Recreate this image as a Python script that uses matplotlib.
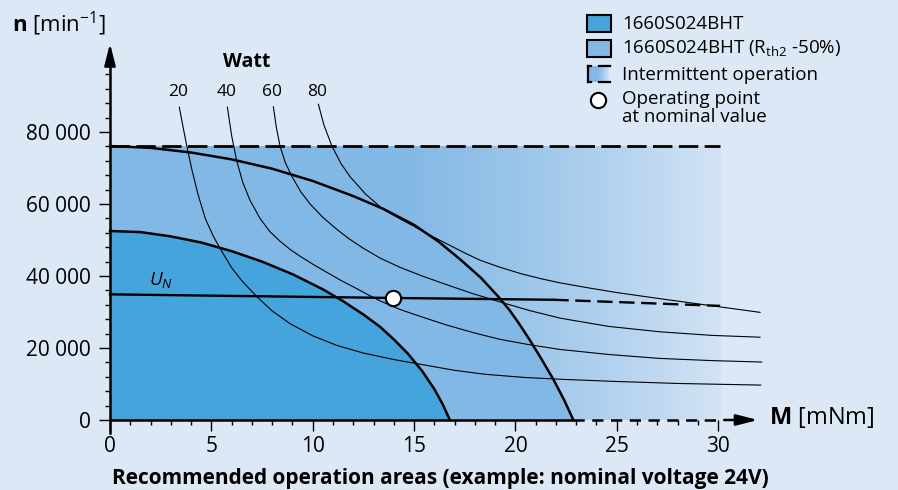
import numpy as np
import matplotlib
matplotlib.use("Agg")
import matplotlib.pyplot as plt
from matplotlib.patches import Rectangle
from matplotlib.lines import Line2D
from matplotlib.colors import to_rgb

plt.rcParams['font.family'] = ['Open Sans', 'DejaVu Sans']
plt.rcParams['mathtext.fontset'] = 'custom'
plt.rcParams['mathtext.rm'] = 'Open Sans'
plt.rcParams['mathtext.it'] = 'Open Sans:italic'
plt.rcParams['mathtext.bf'] = 'Open Sans:bold'

BG = '#dce8f6'
DARK = '#46a4dc'
MEDIUM = '#82b8e5'

# torque M [mNm] / speed n [min-1]
cont_m = [0, 1.5, 3.0, 4.5, 6.0, 7.5, 9.0, 10.5, 11.5, 12.5, 13.3, 14.0, 14.7, 15.4, 16.0, 16.4, 16.77]
cont_n = [52500, 52200, 51000, 49300, 46900, 44000, 40500, 36300, 33000, 29300, 26000, 22400,
          18400, 13600, 8600, 4500, 0]

ext_m = [0, 2, 4, 6, 8, 10, 12, 13.5, 15, 16.2, 17.3, 18.3, 19.2, 19.7, 20.2, 20.7, 21.3,
         21.9, 22.4, 22.86]
ext_n = [76100, 75600, 74300, 72400, 69800, 66400, 62200, 58600, 54200, 49600, 44500, 39500,
         34000, 30600, 26600, 22300, 16800, 11000, 5600, 0]

interm_m_max = 30.1
interm_n_max = 76100

un_m = [0, 13.98, 21.87]
un_n = [34900, 33900, 33400]
un_ext_m = [21.87, 25.8, 30.1]
un_ext_n = [33400, 32600, 31700]

op_m = [13.98]
op_n = [33900]

watt_labels = ['20', '40', '60', '80']
p20_m = [3.42, 3.6, 3.8, 4.05, 4.35, 4.7, 5.1, 5.5, 6.0, 6.5, 7.2, 8.0, 8.9, 10.0, 11.2, 12.5,
         14.0, 15.5, 17.0, 18.5, 20.5, 22.5, 25.0, 28.0, 32.1]
p20_n = [86900, 81500, 75800, 69300, 62500, 56000, 51000, 47000, 42300, 38700, 34500, 30300,
         26700, 23400, 20700, 18600, 16800, 15300, 13800, 12700, 11800, 11250, 10700, 10150, 9700]
p40_m = [5.79, 6.0, 6.25, 6.55, 6.91, 7.4, 7.89, 8.4, 8.88, 9.4, 10.03, 11.35, 12.0, 12.66,
         13.32, 14.31, 15.4, 16.6, 17.9, 19.24, 20.7, 22.2, 24.6, 27.13, 29.7, 32.15]
p40_n = [86900, 79000, 72000, 66000, 61000, 56000, 52300, 49600, 47400, 45400, 43200, 38900,
         37000, 35000, 33100, 30700, 28600, 26400, 24300, 22400, 20900, 19600, 18200, 17100,
         16500, 16100]
p60_m = [8.06, 8.2, 8.39, 8.65, 8.96, 9.4, 9.87, 10.5, 11.18, 11.8, 12.5, 13.32, 14.31, 15.4,
         16.6, 17.9, 19.24, 20.7, 22.2, 24.6, 27.13, 29.7, 32.07]
p60_n = [87000, 81500, 76000, 71500, 67800, 63500, 60000, 56300, 53000, 50300, 47700, 45000,
         42400, 40000, 37600, 35100, 32800, 30400, 28300, 26000, 24500, 23500, 23000]
p80_m = [10.28, 10.55, 10.94, 11.4, 11.84, 12.6, 13.48, 14.3, 15.13, 16.0, 16.77, 17.5, 18.25,
         19.2, 20.3, 21.3, 22.2, 23.5, 25.0, 27.13, 29.6, 32.07]
p80_n = [87700, 82000, 76200, 71200, 67600, 62800, 58500, 55900, 53400, 50700, 48500, 46400,
         44400, 42500, 40600, 39200, 38100, 36800, 35400, 33700, 31800, 29900]
power_curves = [(p20_m, p20_n), (p40_m, p40_n), (p60_m, p60_n), (p80_m, p80_n)]

x_major = [0, 5, 10, 15, 20, 25, 30]
x_labels = ['0', '5', '10', '15', '20', '25', '30']
y_major = [0, 20000, 40000, 60000, 80000]
y_labels = ['0', '20 000', '40 000', '60 000', '80 000']

legend_labels = ['1660S024BHT', r'1660S024BHT (R$_{\mathrm{th2}}$ -50%)',
                 'Intermittent operation', 'Operating point\nat nominal value']

W, H = 898, 490
fig = plt.figure(figsize=(W / 100, H / 100), dpi=100)
fig.patch.set_facecolor(BG)
ax = fig.add_axes([0, 0, 1, 1])
ax.set_facecolor(BG)


def px(x, y):
    return x / W, 1 - y / H


# gradient of the intermittent area (fades into the background)
c0 = np.array(to_rgb(MEDIUM))
c1 = np.array(to_rgb(BG))
gx = np.linspace(0, interm_m_max, 300)
t = np.clip((gx - 13.5) / (31.5 - 13.5), 0, 1) ** 1.3
grad = (c0[None, :] * (1 - t[:, None]) + c1[None, :] * t[:, None])[None, :, :]
ax.imshow(grad, extent=[0, interm_m_max, 0, interm_n_max], aspect='auto', zorder=0.5,
          interpolation='bilinear')

ax.fill(ext_m + [0], ext_n + [0], color=MEDIUM, lw=0, zorder=1)
ax.fill(cont_m + [0], cont_n + [0], color=DARK, lw=0, zorder=1.2)

for (m, n), lab in zip(power_curves, watt_labels):
    ax.plot(m, n, color='black', lw=0.8, zorder=3, solid_joinstyle='round')
    ax.text(m[0] - 0.05, 91000, lab, ha='center', va='center', fontsize=12.5)
ax.text(6.74, 99500, 'Watt', ha='center', va='center', fontsize=14, fontweight='bold')

ax.plot(ext_m, ext_n, color='black', lw=1.8, zorder=4, solid_joinstyle='round')
ax.plot(cont_m, cont_n, color='black', lw=1.8, zorder=4, solid_joinstyle='round')
ax.plot([0, interm_m_max], [interm_n_max, interm_n_max], color='black', lw=2,
        dashes=(7, 2.3), zorder=4)

ax.plot(un_m, un_n, color='black', lw=1.7, zorder=4)
ax.plot(un_ext_m, un_ext_n, color='black', lw=1.7, dashes=(6.5, 2.8), zorder=4)
ax.text(2.52, 38800, r'$U_N$', ha='center', va='center', fontsize=13.5)
ax.plot(op_m, op_n, 'o', ms=11, mfc='white', mec='black', mew=1.5, zorder=6)

# axes
ax.set_xlim(-5.427, 38.875)
ax.set_ylim(-19444, 116667)
for s in ['top', 'right']:
    ax.spines[s].set_visible(False)
ax.spines['left'].set_position(('data', 0))
ax.spines['bottom'].set_position(('data', 0))
ax.spines['left'].set_bounds(-3600, 101000)
ax.spines['bottom'].set_bounds(0, 22.86)
ax.spines['left'].set_linewidth(1.8)
ax.spines['bottom'].set_linewidth(1.8)
ax.spines['left'].set_zorder(5)
ax.spines['bottom'].set_zorder(5)
ax.plot([22.86, 30.1], [0, 0], color='black', lw=1.8, dashes=(4.5, 3), zorder=5)
ax.annotate('', xy=(31.97, 0), xytext=(30.3, 0),
            arrowprops=dict(arrowstyle='-|>,head_length=1.3,head_width=0.33', lw=1.8,
                            color='black', shrinkA=0, shrinkB=0), zorder=5)
ax.annotate('', xy=(0, 104600), xytext=(0, 99000),
            arrowprops=dict(arrowstyle='-|>,head_length=1.3,head_width=0.33', lw=1.8,
                            color='black', shrinkA=0, shrinkB=0), zorder=5)

ax.set_xticks(x_major)
ax.set_xticklabels(x_labels)
ax.set_xticks([v for v in range(1, 30) if v % 5], minor=True)
ax.set_yticks(y_major)
ax.set_yticklabels(y_labels)
ax.set_yticks([v for v in range(4000, 100000, 4000) if v % 20000], minor=True)
ax.tick_params(which='major', direction='out', length=8, width=1, labelsize=15, pad=6)
ax.tick_params(axis='x', which='major', pad=3.5)
ax.tick_params(which='minor', direction='out', length=3.5, width=1)

ax.text(-4.85, 110000, r'$\mathbf{n}$ [min$^{\mathrm{-1}}$]', ha='left', va='center', fontsize=16)
ax.text(32.5, 800, r'$\mathbf{M}$ [mNm]', ha='left', va='center', fontsize=17)
fig.text(*px(440, 478), 'Recommended operation areas (example: nominal voltage 24V)',
         ha='center', va='center', fontsize=15, fontweight='bold')

# legend
fig.add_artist(Rectangle(px(586.7, 32), 24 / W, 17 / H, transform=fig.transFigure,
                         fc=DARK, ec='black', lw=1.5))
fig.add_artist(Rectangle(px(586.7, 57), 24 / W, 17 / H, transform=fig.transFigure,
                         fc=MEDIUM, ec='black', lw=1.5))
iax = fig.add_axes([587 / W, 1 - 82 / H, 22 / W, 16 / H])
iax.imshow(grad[:, ::8, :], aspect='auto', interpolation='bilinear')
iax.axis('off')
for seg in [((587.5, 66), (587.5, 82)), ((587.5, 66), (591, 66)), ((587.5, 82), (591, 82)),
            ((599, 66), (610, 66)), ((599, 82), (610, 82))]:
    (xa, ya), (xb, yb) = seg
    fig.add_artist(Line2D([xa / W, xb / W], [1 - ya / H, 1 - yb / H], color='black',
                          lw=1.6, transform=fig.transFigure))
fig.add_artist(Line2D([598.3 / W], [1 - 100 / H], marker='o', ms=11, mfc='white', mec='black',
                      mew=1.5, transform=fig.transFigure))
for lab, yc in zip(legend_labels, [24, 48.5, 74.5, 108]):
    fig.text(*px(622, yc), lab, ha='left', va='center', fontsize=13.5, linespacing=0.95)

fig.savefig('out.png', dpi=100, facecolor=BG)
